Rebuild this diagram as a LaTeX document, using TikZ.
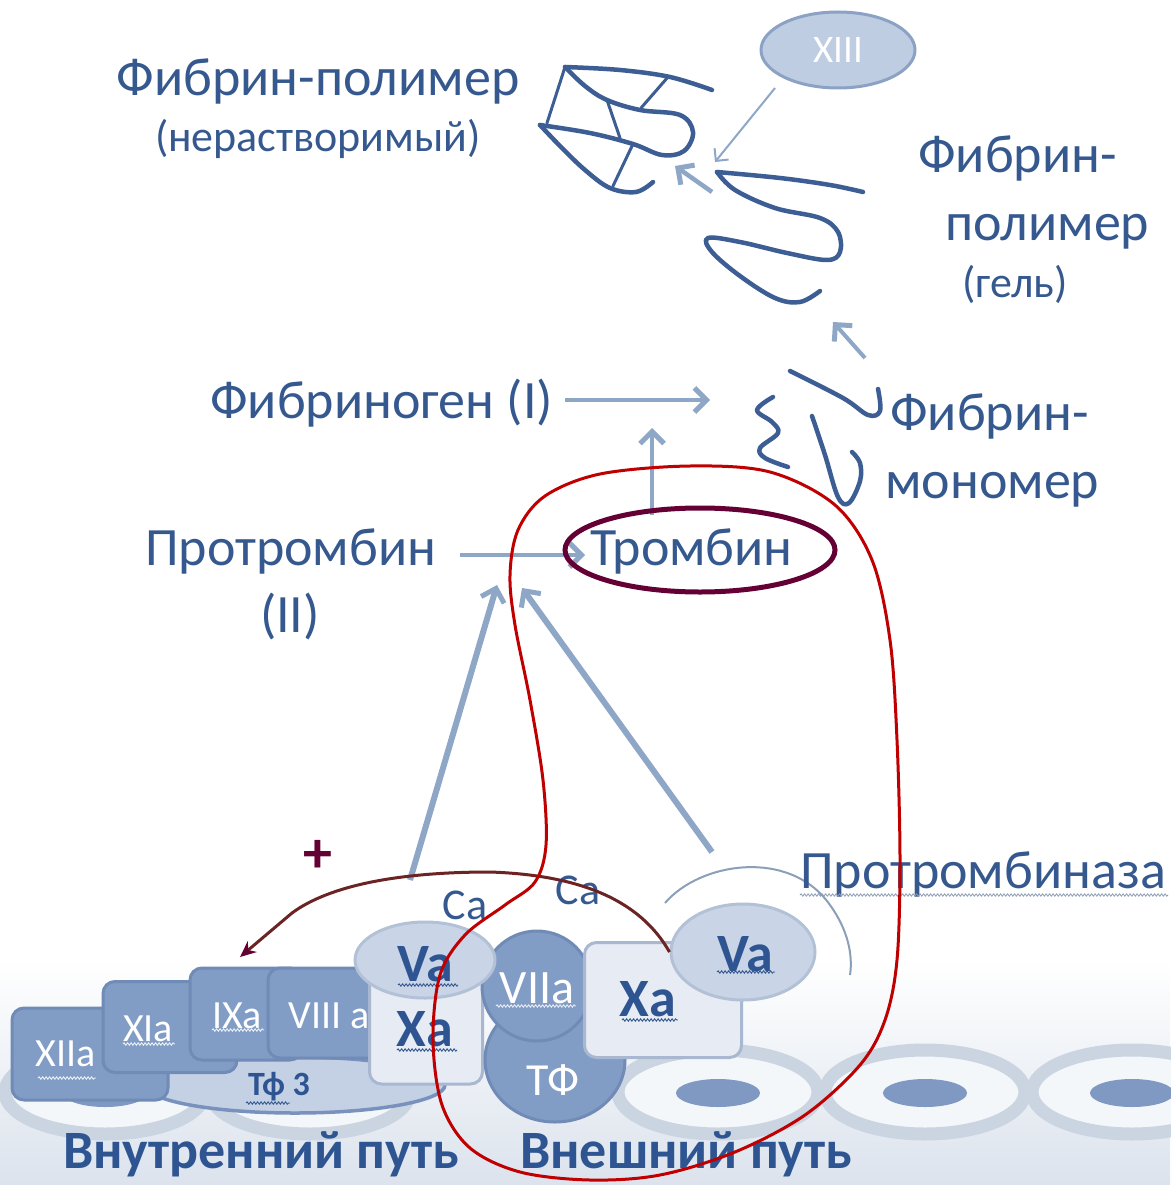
\documentclass[tikz,border=0pt]{standalone}
\usepackage{fontspec}
\setmainfont{Carlito}
\usetikzlibrary{arrows.meta,decorations.pathmorphing,shapes.geometric}

\definecolor{txt}{HTML}{35598F}
\definecolor{txtb}{HTML}{2E5591}
\definecolor{arr}{HTML}{8FA7C7}
\definecolor{strand}{HTML}{3C5E94}
\definecolor{boxd}{HTML}{819DC6}
\definecolor{boxdb}{HTML}{6F8BB6}
\definecolor{boxl}{HTML}{E6EBF4}
\definecolor{boxlb}{HTML}{A9B8D0}
\definecolor{ovl}{HTML}{C9D5E7}
\definecolor{ovlb}{HTML}{B3C1D7}
\definecolor{redc}{HTML}{C00000}
\definecolor{maroonc}{HTML}{650035}
\definecolor{brownc}{HTML}{6B2323}
\definecolor{cellb}{HTML}{CBD4E1}
\definecolor{nuc}{HTML}{7F99C2}
\definecolor{bgbot}{HTML}{DCE3ED}
\definecolor{tfell}{HTML}{C4D1E5}
\definecolor{tfellb}{HTML}{7892BD}

\newcommand\fsBig{\fontsize{54}{60}\selectfont}
\newcommand\fsMid{\fontsize{44}{50}\selectfont}
\newcommand\fsBox{\fontsize{40}{46}\selectfont}
\newcommand\fsCa{\fontsize{44}{50}\selectfont}

\begin{document}
\begin{tikzpicture}[x=1pt,y=-1pt,
  lbl/.style={text=txt,inner sep=0pt},
  strandline/.style={draw=strand,line width=4.5pt,line cap=round,line join=round},
  arrowline/.style={draw=arr,line width=5pt,-{Straight Barb[length=12pt,width=24pt,line width=5pt]}},
  thinarrow/.style={draw=arr,line width=2pt,-{Straight Barb[length=9pt,width=18pt,line width=2pt]}},
  darkbox/.style={draw=boxdb,fill=boxd,line width=3pt,rounded corners=12pt,inner sep=0pt},
  lightbox/.style={draw=boxlb,fill=boxl,line width=3pt,rounded corners=12pt,inner sep=0pt},
  wtxt/.style={text=white,inner sep=0pt,font=\fsBox},
  btxt/.style={text=txtb,inner sep=0pt,font=\fsBig\bfseries},
  wavy/.style={decorate,decoration={snake,amplitude=1.2pt,segment length=3.5pt},line width=0.9pt},
  pathlabel/.style={text=txtb,inner sep=0pt,text depth=0pt,font=\fontsize{54}{60}\selectfont\bfseries}
]
\useasboundingbox (0,0) rectangle (1170,1185);
\fill[white] (0,0) rectangle (1170,1185);
\shade[top color=white,bottom color=bgbot] (0,960) rectangle (1170,1185);

% ---- cell layer ----
\foreach \cx in {105,310,718,925,1132} {
  \draw[cellb,line width=13pt,fill=white!70!bgbot] (\cx,1092) ellipse [x radius=100,y radius=42];
  \fill[nuc] (\cx,1093) ellipse [x radius=42,y radius=14];
}

% ---- intrinsic pathway complex ----
\node[draw=tfellb,fill=tfell,line width=3.5pt,ellipse,minimum width=300pt,minimum height=56pt] (tf3) at (295,1085) {};
\node[darkbox,minimum width=156pt,minimum height=92pt] (xiia) at (90,1054) {};
\node[darkbox,minimum width=134pt,minimum height=91pt] (xia) at (170,1027) {};
\node[darkbox,minimum width=112pt,minimum height=92pt] (ixa) at (246,1014) {};
\node[darkbox,minimum width=132pt,minimum height=90pt] (viiia) at (334,1013) {};
\node[lightbox,minimum width=113pt,minimum height=128pt] (xal) at (426,1020) {};
\node[text=txtb,inner sep=0pt,font=\fontsize{34}{40}\selectfont\bfseries] (tf3t) at (279,1087) {Тф 3};
\node[wtxt] (xiiat) at (66,1054) {XIIa};
\node[wtxt] (xiat) at (148,1029) {XIa};
\node[wtxt] (ixat) at (237,1016) {IXa};
\node[wtxt] (viiiat) at (329,1016) {VIII a};
\node[btxt] (xalt) at (425,1029) {Xa};

% ---- extrinsic pathway complex ----
\node[ellipse,draw=boxdb,fill=boxd,line width=3pt,minimum width=140pt,minimum height=124pt,inner sep=0pt] (tf) at (555,1060) {};
\node[circle,draw=boxdb,fill=boxd,line width=3pt,minimum size=110pt,inner sep=0pt] (viia) at (537,986) {};
\node[ellipse,draw=ovlb,fill=ovl,line width=3pt,minimum width=140pt,minimum height=76pt,inner sep=0pt] (val) at (425,960) {};
\node[btxt] (valt) at (425,964) {Va};
\node[wtxt,font=\fontsize{48}{54}\selectfont] (viiat) at (537,988) {VIIa};
\node[wtxt,font=\fontsize{46}{52}\selectfont] (tft) at (553,1080) {ТФ};
\node[lightbox,minimum width=157pt,minimum height=115pt] (xar) at (663,1000) {};
\node[ellipse,draw=ovlb,fill=ovl,line width=3pt,minimum width=144pt,minimum height=96pt,inner sep=0pt] (var) at (743,952) {};
\node[btxt] (xart) at (648,999) {Xa};
\node[btxt] (vart) at (745,954) {Va};

% spell-check style wavy underlines
\draw[wavy,white!85!boxd] (38,1078) -- (96,1078);
\draw[wavy,white!85!boxd] (123,1044) -- (175,1044);
\draw[wavy,white!85!boxd] (212,1030) -- (264,1030);
\draw[wavy,white!80!boxd] (496,1006) -- (576,1006);
\draw[wavy,txt] (398,985) -- (458,985);
\draw[wavy,txt] (397,1050) -- (457,1050);
\draw[wavy,txt] (622,1020) -- (678,1020);
\draw[wavy,txt] (717,972) -- (775,972);
\draw[wavy,txt] (246,1103) -- (290,1103);

% prothrombinase bracket arc
\draw[draw=arr!80!gray,line width=2pt] (665,903) .. controls (700,862) and (790,848) .. (830,905) .. controls (848,930) and (853,955) .. (850,975);
\node[lbl,font=\fsBig,anchor=base west] (protase) at (800,888) {Протромбиназа};
\draw[wavy,arr!70!gray,line width=0.8pt] (800,895) -- (1168,895);

% Ca labels and the plus sign
\node[lbl,font=\fsCa] (ca1) at (465,905) {Ca};
\node[lbl,font=\fsCa] (ca2) at (578,890) {Ca};
\node[text=maroonc,inner sep=0pt,font=\fontsize{58}{64}\selectfont\bfseries] (plus) at (318,856) {+};

% ---- upper scheme labels ----
\node[lbl,font=\fsBig,anchor=base] (fpol) at (318,96) {Фибрин-полимер};
\node[lbl,font=\fsMid,anchor=base] (fpol2) at (318,152) {(нерастворимый)};
\node[lbl,font=\fsBig,anchor=base west] (gel1) at (918,172) {Фибрин-};
\node[lbl,font=\fsBig,anchor=base west] (gel2) at (945,240) {полимер};
\node[lbl,font=\fsMid,anchor=base west] (gel3) at (962,297) {(гель)};
\node[lbl,font=\fsBig,anchor=base west] (mon1) at (890,430) {Фибрин-};
\node[lbl,font=\fsBig,anchor=base west] (mon2) at (885,498) {мономер};
\node[lbl,font=\fsBig,anchor=base west] (fgen) at (210,418) {Фибриноген (I)};
\node[lbl,font=\fsBig,anchor=base west] (pth) at (145,565) {Протромбин};
\node[lbl,font=\fsBig,anchor=base] (pth2) at (290,632) {(II)};
\node[lbl,font=\fsBig,anchor=base west] (thr) at (590,565) {Тромбин};

% factor XIII
\node[ellipse,draw=boxdb!80,fill=ovl!85!boxd,line width=3pt,minimum width=154pt,minimum height=76pt,inner sep=0pt,text=white,font=\fontsize{39}{44}\selectfont] (xiii) at (838,50) {XIII};

% ---- fibrin strands ----
% insoluble polymer
\draw[strandline] plot[smooth,tension=0.6] coordinates {(565,67) (620,70) (670,77) (712,90)};
\draw[strandline] plot[smooth,tension=0.6] coordinates {(565,67) (585,86) (607,100) (640,110) (680,115) (693,132) (684,151) (662,155) (633,144) (590,133) (540,125)};
\draw[strandline] plot[smooth,tension=0.6] coordinates {(540,125) (560,146) (585,170) (610,188) (636,192) (653,182)};
\draw[strand,line width=3pt,line cap=round] (565,67) -- (547,123);
\draw[strand,line width=3pt,line cap=round] (668,77) -- (641,108);
\draw[strand,line width=3pt,line cap=round] (607,100) -- (620,138);
\draw[strand,line width=3pt,line cap=round] (633,144) -- (613,186);
% gel
\draw[strandline] plot[smooth,tension=0.6] coordinates {(717,172) (780,178) (830,185) (863,192)};
\draw[strandline] plot[smooth,tension=0.6] coordinates {(717,172) (735,190) (775,208) (820,218) (838,232) (840,252) (827,260) (787,253) (740,242) (708,238) (712,252) (740,276) (775,298) (800,302) (820,291)};
% monomers
\draw[strandline] plot[smooth,tension=0.6] coordinates {(790,371) (843,398) (868,415) (880,411) (878,389)};
\draw[strandline] plot[smooth,tension=0.6] coordinates {(773,397) (757,410) (772,422) (778,433) (760,448) (765,458) (788,467)};
\draw[strandline] plot[smooth,tension=0.6] coordinates {(812,416) (825,455) (838,497) (849,503) (860,481) (860,463) (852,452)};

% ---- arrows ----
\coordinate (xiiiA) at (775,88);
\coordinate (xiiiB) at (715,162);
\draw[thinarrow] (xiiiA) -- (xiiiB);
\coordinate (gelA) at (712,192);
\coordinate (gelB) at (675,166);
\draw[arrowline,line width=4.5pt] (gelA) -- (gelB);
\coordinate (monA) at (865,358);
\coordinate (monB) at (833,322);
\draw[arrowline,line width=4pt] (monA) -- (monB);
\coordinate (fgA) at (565,400);
\coordinate (fgB) at (710,400);
\draw[arrowline,line width=4pt] (fgA) -- (fgB);
\coordinate (thA) at (652,515);
\coordinate (thB) at (652,428);
\draw[arrowline,line width=4pt] (thA) -- (thB);
\coordinate (ptA) at (460,555);
\coordinate (ptB) at (585,555);
\draw[arrowline,line width=4pt] (ptA) -- (ptB);
\coordinate (inA) at (410,880);
\coordinate (inB) at (497,585);
\draw[arrowline,line width=6pt] (inA) -- (inB);
\coordinate (exA) at (712,852);
\coordinate (exB) at (522,588);
\draw[arrowline,line width=6pt] (exA) -- (exB);

% feedback arc from prothrombinase to factor IX activation
\coordinate (fbB) at (240,957);
\draw[brownc,line width=3pt,-{Stealth[length=16pt,width=14pt,color=maroonc]}] (var.west) .. controls (640,900) and (580,875) .. (490,872) .. controls (400,872) and (330,885) .. (292,913) -- (fbB);

% ---- pathway titles ----
\node[pathlabel,anchor=base west] (intr) at (63,1168) {Внутренний путь};
\node[pathlabel,anchor=base west] (extr) at (520,1168) {Внешний путь};

% ---- highlight outlines ----
\node[ellipse,draw=maroonc,line width=5pt,minimum width=270pt,minimum height=84pt] (thrring) at (700,550) {};
\draw[redc,line width=3pt] plot[smooth cycle,tension=0.55] coordinates {
  (690,466) (770,472) (835,505) (872,560) (890,640) (897,740) (900,860) (897,960) (885,1020) (860,1065) (805,1115) (735,1152) (660,1175) (590,1180) (520,1172) (470,1148) (442,1105) (433,1040) (440,975) (465,935) (505,905) (535,882) (546,845) (543,780) (530,700) (515,625) (510,575) (518,530) (545,496) (600,474)};
\end{tikzpicture}
\end{document}
